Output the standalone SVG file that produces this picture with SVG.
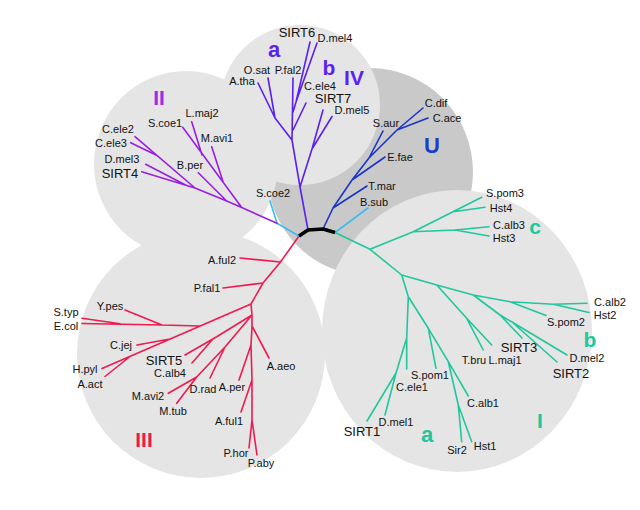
<svg xmlns="http://www.w3.org/2000/svg" width="640" height="510" viewBox="0 0 640 510">
<style>
.bg{fill:#e5e5e5}
.dk{fill:#c9c9c9}
.br{fill:none;stroke-width:1.6;stroke-linecap:round;stroke-linejoin:round}
.red{stroke:#ef1a4f}
.tea{stroke:#20c79c}
.pur{stroke:#9a1ee0}
.vio{stroke:#5a1ff2}
.blu{stroke:#1a35c8}
.cya{stroke:#3bbcf0}
text{font-family:"Liberation Sans",Arial,Helvetica,sans-serif;font-size:11px;fill:#111;text-anchor:middle}
.s{font-size:13px}
.g{font-weight:bold;font-size:21px}
</style>
<rect width="640" height="510" fill="#fff"/>
<g id="backgrounds">
<ellipse id="bg-U" class="dk" cx="370" cy="172" rx="103" ry="104"/>
<ellipse id="bg-II" class="bg" cx="186" cy="164" rx="92" ry="93"/>
<circle id="bg-IV" class="bg" cx="300" cy="105" r="80"/>
<circle id="bg-III" class="bg" cx="201" cy="354" r="124"/>
<ellipse id="bg-I" class="bg" cx="457" cy="331" rx="135" ry="141"/>
</g>
<g id="connectors">
<path class="br red" d="M299,236 L280.5,262 L263,283 L251,304 M280.5,262 L240,258 M263,283 L223,288 M251,304 L102,368.5 M200,326 L162,325 L82,323.5 M120,323.8 L82,318.3 M162,325 L125,310 M170,339 L137,345 M130,356.5 L105,376.5 M251,304 L252,315 L252,327 L251,345 L252,380 L252,420 L249,448 M252,420 L257,455 M252,326 L269,358 M251,345 L239,380 M252,380 L241,412 M252,315 L216.7,336.7 L185,355 M212,340 L192,363 M252,315 L225,347 L196.7,377 L168.3,393.3 M196.7,377 L176.7,403.3 M225,347 L210,378"/>
<path class="br cya" d="M299,236 L277,223.3 L270,201 M335,232.5 L368,208"/>
<path class="br pur" d="M277,223.3 L241.7,207.5 L226.7,201 L195,188 L141.7,171.7 M241.7,207.5 L182.7,127.3 M223.3,182.5 L211.7,146.7 M202,155 L191.7,121.7 M226.7,201 L198.3,172.7 M186,185.2 L145.7,164.3 M195,188 L135,136.7 M157,155.5 L130.7,142.7"/>
<path class="br vio" d="M308,230 L300,187 L312,149 L323,110 M312,149 L332,116.5 M300,187 L292,140 L293,78 M292,140 L275,118 L258,83 M275,118 L268,78 M293,130 L306,103 M293,112 L296,102 L310,42 M296,102 L317,43"/>
<path class="br blu" d="M323,229 L333,208 L352,180 L369,158 L397,130 L423,108 M397,130 L428,118 M369,158 L383,131 M352,180 L385,157 M333,208 L367,186"/>
<path class="br tea" d="M335,232.5 L370,249.3 L413.3,231.7 L455,230 L489,226.7 M455,230 L489,236 M413.3,231.7 L453,211.7 L481.7,197.3 M453,211.7 L485,207.3 M370,249.3 L401.7,275 L436.7,285 L473.3,295 L510,301.7 L553.3,304.3 L587,303.3 M553.3,304.3 L589,312.5 M510,301.7 L546,315.5 M436.7,285 L466.7,318.3 L483.3,350 M466.7,318.3 L491.7,345 M473.3,295 L500,315 L522,338 M500,315 L512,322 L567,355 M512,322 L557,362 M401.7,275 L408.3,296.7 L428.3,328.3 L448.3,361.7 L468.3,396 M428.3,328.3 L436,368.3 M448.3,361.7 L458.3,405 L461.7,441.7 M458.3,405 L471.7,441.7 M408.3,296.7 L406.7,338 L406.7,369 M406.7,338 L396,373 L367,421 M396,373 L385,415"/>
<path fill="none" stroke="#000" stroke-width="3.5" stroke-linejoin="round" d="M299,236 L308,230 L323,229 L335,232.5"/>
</g>
<g id="clade-III">
<text id="A.ful2" x="222" y="264">A.ful2</text>
<text id="P.fal1" x="207" y="292">P.fal1</text>
<text id="S.typ" x="66" y="316">S.typ</text>
<text id="E.col" x="66" y="330">E.col</text>
<text id="Y.pes" x="110" y="310">Y.pes</text>
<text id="C.jej" x="121" y="349">C.jej</text>
<text id="H.pyl" x="85" y="373">H.pyl</text>
<text id="A.act" x="90" y="388">A.act</text>
<text id="SIRT5" class="s" x="164" y="365">SIRT5</text>
<text id="C.alb4" x="170" y="377">C.alb4</text>
<text id="M.avi2" x="148" y="400">M.avi2</text>
<text id="M.tub" x="173" y="415">M.tub</text>
<text id="D.rad" x="203" y="393">D.rad</text>
<text id="A.per" x="232" y="391">A.per</text>
<text id="A.aeo" x="281" y="370">A.aeo</text>
<text id="A.ful1" x="229" y="425">A.ful1</text>
<text id="P.hor" x="236" y="457">P.hor</text>
<text id="P.aby" x="261" y="467">P.aby</text>
<text id="label-III" class="g" x="144" y="447" style="fill:#ec1a4e">III</text>
</g>
<g id="clade-II">
<text id="S.coe1" x="165" y="127">S.coe1</text>
<text id="L.maj2" x="202" y="117">L.maj2</text>
<text id="M.avi1" x="217" y="142">M.avi1</text>
<text id="C.ele2" x="118" y="133">C.ele2</text>
<text id="C.ele3" x="111" y="147">C.ele3</text>
<text id="D.mel3" x="122" y="163">D.mel3</text>
<text id="SIRT4" class="s" x="120" y="178">SIRT4</text>
<text id="B.per" x="190" y="169">B.per</text>
<text id="label-II" class="g" x="159" y="105" style="fill:#a22ae0">II</text>
<text id="S.coe2" x="273" y="197">S.coe2</text>
</g>
<g id="clade-IV">
<text id="A.tha" x="242" y="85">A.tha</text>
<text id="O.sat" x="257" y="74">O.sat</text>
<text id="P.fal2" x="288" y="74">P.fal2</text>
<text id="SIRT6" class="s" x="297" y="37">SIRT6</text>
<text id="D.mel4" x="335" y="42">D.mel4</text>
<text id="C.ele4" x="320" y="90">C.ele4</text>
<text id="SIRT7" class="s" x="333" y="103">SIRT7</text>
<text id="D.mel5" x="352" y="114">D.mel5</text>
<text id="label-IVa" class="g" x="274" y="57" style="fill:#5e1ff2;font-size:22px">a</text>
<text id="label-IVb" class="g" x="329" y="75" style="fill:#5e1ff2">b</text>
<text id="label-IV" class="g" x="354" y="85" style="fill:#5e1ff2">IV</text>
</g>
<g id="clade-U">
<text id="C.dif" x="436" y="107">C.dif</text>
<text id="C.ace" x="447" y="122">C.ace</text>
<text id="S.aur" x="386" y="127">S.aur</text>
<text id="E.fae" x="400" y="161">E.fae</text>
<text id="T.mar" x="382" y="190">T.mar</text>
<text id="B.sub" x="374" y="206">B.sub</text>
<text id="label-U" class="g" x="432" y="153" style="fill:#1c3cc8;font-size:22px">U</text>
</g>
<g id="clade-I">
<text id="S.pom3" x="505" y="197">S.pom3</text>
<text id="Hst4" x="501" y="212">Hst4</text>
<text id="C.alb3" x="509" y="229">C.alb3</text>
<text id="Hst3" x="504" y="242">Hst3</text>
<text id="label-Ic" class="g" x="535" y="234" style="fill:#20c79c">c</text>
<text id="C.alb2" x="610" y="305.5">C.alb2</text>
<text id="Hst2" x="605" y="319">Hst2</text>
<text id="S.pom2" x="566" y="325.5">S.pom2</text>
<text id="label-Ib" class="g" x="590" y="347" style="fill:#20c79c">b</text>
<text id="D.mel2" x="587" y="361.5">D.mel2</text>
<text id="SIRT2" class="s" x="571" y="378">SIRT2</text>
<text id="SIRT3" class="s" x="519" y="352">SIRT3</text>
<text id="T.bru" x="474" y="364">T.bru</text>
<text id="L.maj1" x="505" y="364">L.maj1</text>
<text id="S.pom1" x="430" y="379">S.pom1</text>
<text id="C.ele1" x="412" y="391">C.ele1</text>
<text id="C.alb1" x="483" y="407">C.alb1</text>
<text id="D.mel1" x="396" y="426">D.mel1</text>
<text id="SIRT1" class="s" x="362" y="436">SIRT1</text>
<text id="Sir2" x="457" y="454">Sir2</text>
<text id="Hst1" x="485" y="450">Hst1</text>
<text id="label-Ia" class="g" x="427" y="442" style="fill:#20c79c;font-size:22px">a</text>
<text id="label-I" class="g" x="540" y="428" style="fill:#20c79c">I</text>
</g>
</svg>
